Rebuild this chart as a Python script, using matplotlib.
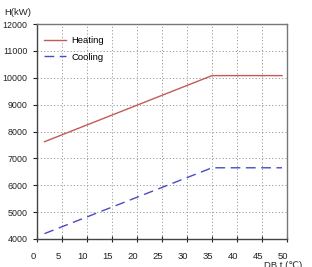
import matplotlib
matplotlib.use("Agg")
import matplotlib.pyplot as plt
import matplotlib.transforms as mtransforms

plt.rcParams['font.family'] = ['Liberation Sans', 'DejaVu Sans']

heat_x = [1.5, 35, 49]
heat_y = [7620, 10080, 10080]
cool_x = [1.5, 35, 49]
cool_y = [4200, 6650, 6650]
xticks = [0, 5, 10, 15, 20, 25, 30, 35, 40, 45, 50]
yticks = [4000, 5000, 6000, 7000, 8000, 9000, 10000, 11000, 12000]

fs = 6.8
fig = plt.figure(figsize=(3.12, 2.67), dpi=100)
ax = fig.add_axes([37/312, 1 - 239/267, 250/312, 215/267])

ax.plot(heat_x, heat_y, color='#c25a5a', lw=1.0, label='Heating')
ax.plot(cool_x, cool_y, color='#4a4ac8', lw=1.0, dashes=(7, 4), label='Cooling')

ax.set_xlim(0, 50)
ax.set_ylim(4000, 12000)
ax.set_xticks(xticks)
ax.set_yticks(yticks)
ax.grid(True, color='#9a9a9a', linestyle=(0, (1.2, 2.2)), lw=0.7)
ax.tick_params(axis='both', labelsize=fs, colors='#222222', length=3, width=0.8)
ax.tick_params(axis='x', direction='inout', length=5, pad=7)
ax.tick_params(axis='y', direction='out', pad=4, labelsize=6.4)
for lbl in ax.get_xticklabels():
    lbl.set_transform(lbl.get_transform() + mtransforms.ScaledTranslation(-4/100, 0, fig.dpi_scale_trans))
for s in ['left', 'bottom']:
    ax.spines[s].set_color('#444444')
    ax.spines[s].set_linewidth(1.0)
for s in ['top', 'right']:
    ax.spines[s].set_color('#777777')
    ax.spines[s].set_linewidth(1.0)

leg = ax.legend(loc='upper left', frameon=False, fontsize=fs, handlelength=2.4,
                bbox_to_anchor=(0.0, 0.975), labelspacing=0.8, handletextpad=0.5,
                borderaxespad=0.3)

fig.text(4/312, 1 - 17/267, 'H(kW)', fontsize=fs, color='#222222', ha='left', va='bottom')
fig.text(264/312, 1 - 261/267, 'DB t (℃)', fontsize=fs, color='#222222', ha='left', va='top')

fig.savefig('out.png', dpi=100)
